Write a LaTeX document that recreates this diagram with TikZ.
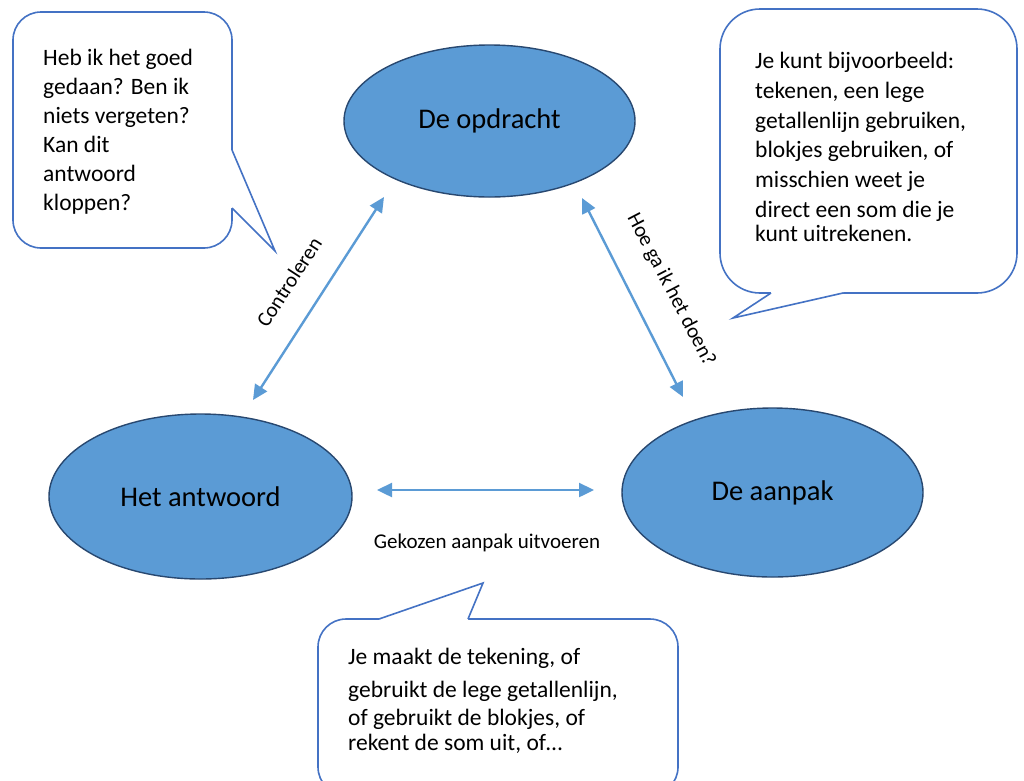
\documentclass[tikz,border=0pt]{standalone}
\usepackage{fontspec}
\setmainfont{Carlito}
\usetikzlibrary{shapes.geometric,arrows.meta}
\definecolor{bubblefill}{RGB}{91,155,213}
\definecolor{bubbleline}{RGB}{40,72,112}
\definecolor{callline}{RGB}{68,114,196}
\definecolor{linkblue}{RGB}{91,155,213}
\begin{document}
\begin{tikzpicture}[x=1pt,y=-1pt,
	bubble/.style={ellipse,draw=bubbleline,line width=1.4pt,fill=bubblefill,inner sep=0pt,font=\fontsize{28.5}{32}\selectfont},
	callbox/.style={draw=callline,line width=1.6pt,fill=white,rounded corners=#1},
	calledge/.style={draw=callline,line width=1.6pt,line join=miter},
	calltext/.style={anchor=north west,align=left,inner sep=0pt,font=\fontsize{23.5}{29}\selectfont},
	link/.style={draw=linkblue,line width=2.4pt,{Triangle[length=15pt,width=14pt]}-{Triangle[length=15pt,width=14pt]}},
	linklabel/.style={inner sep=0pt,font=\fontsize{21}{24}\selectfont}]
	\useasboundingbox[fill=white] (0,0) rectangle (1024,780);
	
	% the three steps
	\node[bubble,minimum width=291pt,minimum height=152pt] (opdracht) at (489.5,121) {De opdracht};
	\node[bubble,minimum width=303pt,minimum height=165pt] (antwoord) at (200.5,496.5) {Het antwoord};
	\node[bubble,minimum width=301pt,minimum height=169pt] (aanpak) at (772.5,492.5) {De aanpak};
	
	\coordinate (antwoord top) at (253,400);
	\coordinate (opdracht left) at (384,197);
	\coordinate (opdracht right) at (582,198);
	\coordinate (aanpak top) at (683,397);
	\coordinate (antwoord right) at (377,490);
	\coordinate (aanpak left) at (594,490);
	\draw[link] (antwoord top) -- (opdracht left);
	\draw[link] (opdracht right) -- (aanpak top);
	\draw[link] (antwoord right) -- (aanpak left);
	\node[linklabel,rotate=57] (controleren) at (289,282) {Controleren};
	\node[linklabel,rotate=-62.5] (doen) at (671,290) {Hoe ga ik het doen?};
	\node[linklabel] (uitvoeren) at (487,543) {Gekozen aanpak uitvoeren};
	
	% callouts
	\draw[callbox=28pt] (13,12) rectangle (232,248);
	\fill[white] (229,150) -- (232,150) -- (275,251) -- (232,208) -- (229,208) -- cycle;
	\draw[calledge] (232,150) -- (275,251) -- (232,208);
	\node[calltext] (controle) at (43,49) {Heb ik het goed\\gedaan? Ben ik\\niets vergeten?\\Kan dit\\antwoord\\kloppen?};
	
	\draw[callbox=40pt] (720,9) rectangle (1017,293);
	\fill[white] (771,290) -- (771,293) -- (733,318) -- (843,293) -- (843,290) -- cycle;
	\draw[calledge] (771,293) -- (733,318) -- (843,293);
	\node[calltext,font=\fontsize{23.5}{29.8}\selectfont] (manieren) at (755,52) {Je kunt bijvoorbeeld:\\tekenen, een lege\\getallenlijn gebruiken,\\blokjes gebruiken, of\\misschien weet je\\direct een som die je\\[-6pt]kunt uitrekenen.};
	
	\draw[callbox=28pt] (318,619) rectangle (678,795);
	\fill[white] (379,622) -- (379,619) -- (483,583) -- (468,619) -- (468,622) -- cycle;
	\draw[calledge] (379,619) -- (483,583) -- (468,619);
	\node[calltext,font=\fontsize{23.5}{28}\selectfont] (uitvoering) at (348,648) {Je maakt de tekening, of\\[5pt]gebruikt de lege getallenlijn,\\of gebruikt de blokjes, of\\[-3pt]rekent de som uit, of…};
\end{tikzpicture}
\end{document}
